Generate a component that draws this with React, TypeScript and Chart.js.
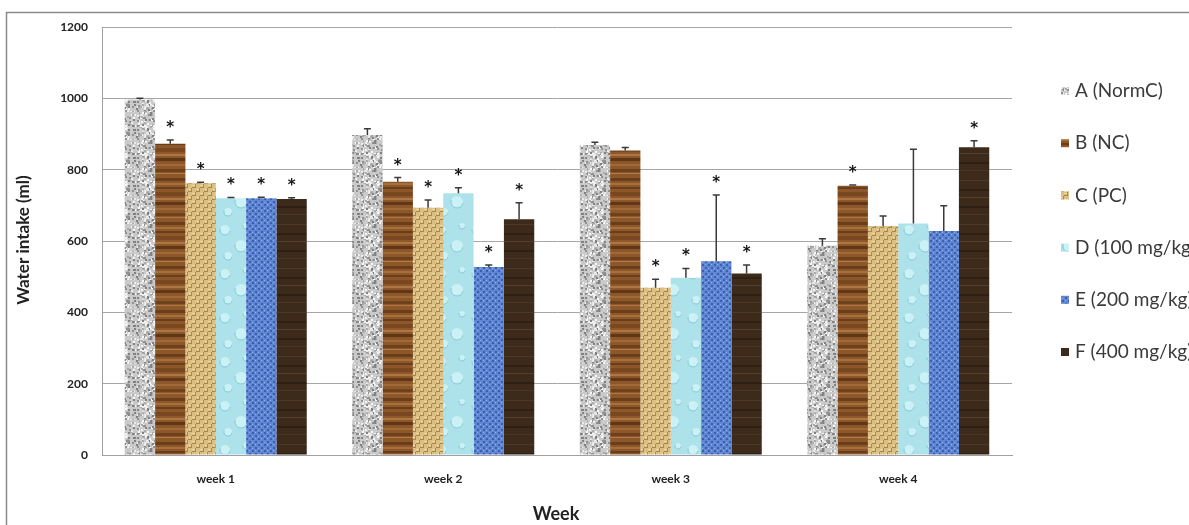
import React, { useEffect, useRef } from "react";
import { Chart, registerables } from "chart.js";

Chart.register(...registerables);

const categories = ["week 1", "week 2", "week 3", "week 4"];
const seriesNames = ["A (NormC)", "B (NC)", "C (PC)", "D (100 mg/kg)", "E (200 mg/kg)", "F (400 mg/kg)"];
const valuesA = [997, 897, 869, 587];
const valuesB = [873, 766, 854, 755];
const valuesC = [762, 693, 469, 642];
const valuesD = [720, 734, 497, 649];
const valuesE = [720, 527, 543, 628];
const valuesF = [718, 661, 509, 863];
const errA = [3, 18, 8, 19];
const errB = [10, 12, 8, 2];
const errC = [3, 22, 24, 28];
const errD = [2, 15, 26, 208];
const errE = [3, 6, 186, 71];
const errF = [3, 46, 24, 18];
const starA = [false, false, false, false];
const starB = [true, true, false, true];
const starC = [true, true, true, false];
const starD = [true, true, true, false];
const starE = [true, true, true, false];
const starF = [true, true, true, true];
const yTicks = [0, 200, 400, 600, 800, 1000, 1200];

const allValues = [valuesA, valuesB, valuesC, valuesD, valuesE, valuesF];
const allErrs = [errA, errB, errC, errD, errE, errF];
const allStars = [starA, starB, starC, starD, starE, starF];

function makeTile(w: number, h: number, draw: (c: CanvasRenderingContext2D) => void) {
  const cv = document.createElement("canvas");
  cv.width = w;
  cv.height = h;
  const c = cv.getContext("2d")!;
  draw(c);
  return cv;
}

function hash(n: number) {
  const s = Math.sin(n * 12.9898) * 43758.5453;
  return s - Math.floor(s);
}

function buildPatterns(ctx: CanvasRenderingContext2D) {
  const granite = makeTile(28, 28, (c) => {
    c.fillStyle = "#cacaca";
    c.fillRect(0, 0, 28, 28);
    const cols = ["#929292", "#ececec", "#ababab", "#f6f6f6", "#828282"];
    for (let k = 0; k < 130; k++) {
      const x = Math.floor(hash(k + 1) * 28);
      const y = Math.floor(hash(k + 101) * 28);
      c.fillStyle = cols[k % cols.length];
      c.fillRect(x, y, 2, 2);
    }
  });
  const wood = makeTile(32, 44, (c) => {
    c.fillStyle = "#8d5729";
    c.fillRect(0, 0, 32, 44);
    const bands = [
      [2, 3, "#6b3e1b"], [7, 2, "#a66f3b"], [11, 2, "#6b3e1b"], [16, 4, "#7a4820"],
      [22, 2, "#ad7642"], [26, 3, "#5f3617"], [32, 2, "#a06a38"], [37, 3, "#6e401c"], [41, 1, "#b07a46"],
    ] as [number, number, string][];
    for (const [y, h, col] of bands) {
      c.fillStyle = col;
      c.fillRect(0, y, 32, h);
    }
  });
  const woven = makeTile(8, 8, (c) => {
    c.fillStyle = "#dcbf83";
    c.fillRect(0, 0, 8, 8);
    c.fillStyle = "#a9864a";
    c.fillRect(0, 3, 4, 1);
    c.fillRect(4, 7, 4, 1);
    c.fillRect(3, 0, 1, 3);
    c.fillRect(7, 4, 1, 3);
    c.fillStyle = "#efd9a6";
    c.fillRect(0, 1, 3, 1);
    c.fillRect(5, 5, 2, 1);
  });
  const water = makeTile(36, 44, (c) => {
    c.fillStyle = "#ade2eb";
    c.fillRect(0, 0, 36, 44);
    const drops = [[9, 10, 5], [25, 26, 6], [12, 36, 4], [30, 6, 3]];
    for (const [x, y, r] of drops) {
      c.fillStyle = "#c9f1f6";
      c.beginPath();
      c.arc(x, y, r, 0, Math.PI * 2);
      c.fill();
      c.strokeStyle = "#86c9d6";
      c.lineWidth = 1;
      c.beginPath();
      c.arc(x, y, r, 0.2, Math.PI * 1.1);
      c.stroke();
    }
  });
  const denim = makeTile(6, 6, (c) => {
    c.fillStyle = "#5f87d3";
    c.fillRect(0, 0, 6, 6);
    c.fillStyle = "#3b5fae";
    c.fillRect(0, 0, 2, 2);
    c.fillRect(3, 3, 2, 2);
    c.fillStyle = "#92b0e8";
    c.fillRect(3, 0, 1, 1);
    c.fillRect(0, 4, 1, 1);
  });
  const dark = makeTile(32, 44, (c) => {
    c.fillStyle = "#3c2a1b";
    c.fillRect(0, 0, 32, 44);
    const bands = [[4, 1, "#4e3926"], [13, 2, "#2f2013"], [21, 1, "#543e2a"], [30, 2, "#2e1f13"], [38, 1, "#4a3624"]] as [number, number, string][];
    for (const [y, h, col] of bands) {
      c.fillStyle = col;
      c.fillRect(0, y, 32, h);
    }
  });
  return [granite, wood, woven, water, denim, dark].map((t) => ctx.createPattern(t, "repeat") as CanvasPattern);
}

export default function App() {
  const ref = useRef<HTMLCanvasElement | null>(null);
  useEffect(() => {
    const canvas = ref.current!;
    const ctx = canvas.getContext("2d")!;
    const patterns = buildPatterns(ctx);
    const fallback = ["#c6c6c6", "#8d5729", "#dcbf83", "#ade2eb", "#5f87d3", "#3c2a1b"];

    const decorPlugin = {
      id: "decor",
      afterDatasetsDraw(chart: any) {
        const c = chart.ctx as CanvasRenderingContext2D;
        const y = chart.scales.y;
        c.save();
        chart.data.datasets.forEach((ds: any, i: number) => {
          const meta = chart.getDatasetMeta(i);
          meta.data.forEach((bar: any, j: number) => {
            const v = allValues[i][j];
            const e = allErrs[i][j];
            const yTop = y.getPixelForValue(v);
            const yErr = y.getPixelForValue(v + e);
            c.strokeStyle = "#3a3a3a";
            c.lineWidth = 1.5;
            c.beginPath();
            c.moveTo(bar.x, yTop);
            c.lineTo(bar.x, yErr);
            c.moveTo(bar.x - 3.5, yErr);
            c.lineTo(bar.x + 3.5, yErr);
            c.stroke();
            if (allStars[i][j]) {
              c.fillStyle = "#151515";
              c.font = "bold 15px 'DejaVu Sans'";
              c.textAlign = "center";
              c.textBaseline = "alphabetic";
              c.fillText("*", bar.x, yErr - 8);
            }
          });
        });
        c.restore();
      },
      afterDraw(chart: any) {
        const c = chart.ctx as CanvasRenderingContext2D;
        c.save();
        c.strokeStyle = "#8a8a8a";
        c.lineWidth = 1.5;
        c.beginPath();
        c.moveTo(6.5, 540);
        c.lineTo(6.5, 12.5);
        c.lineTo(1200, 12.5);
        c.stroke();
        c.fillStyle = "#222";
        c.font = "bold 17px Lato";
        c.textAlign = "center";
        c.textBaseline = "middle";
        c.save();
        c.translate(24, 240);
        c.rotate(-Math.PI / 2);
        c.fillText("Water intake (ml)", 0, 0);
        c.restore();
        c.font = "bold 18px Lato";
        c.fillText("Week", 556, 514);
        c.font = "19px Lato";
        c.textAlign = "left";
        seriesNames.forEach((name, i) => {
          const cy = 91 + i * 52.2;
          c.fillStyle = patterns[i] || fallback[i];
          c.fillRect(1061, cy - 4, 8, 8);
          c.fillStyle = "#3a3a3a";
          c.fillText(name, 1075, cy);
        });
        c.restore();
      },
    };

    const chart = new Chart(ctx, {
      type: "bar",
      data: {
        labels: categories,
        datasets: seriesNames.map((name, i) => ({
          label: name,
          data: allValues[i],
          backgroundColor: patterns[i] || fallback[i],
          borderWidth: 0,
          categoryPercentage: 0.8,
          barPercentage: 1.0,
        })),
      },
      options: {
        animation: false,
        responsive: false,
        maintainAspectRatio: false,
        layout: { padding: { left: 0, right: 177, top: 27, bottom: 0 } },
        plugins: { legend: { display: false }, tooltip: { enabled: false }, title: { display: false } },
        scales: {
          x: {
            grid: { display: false, drawTicks: false },
            border: { display: true, color: "#a0a0a0", width: 1 },
            ticks: { padding: 17, color: "#222", font: { family: "Lato", size: 12, weight: "bold" } },
            afterFit: (s: any) => { s.height = 70; },
          },
          y: {
            min: 0,
            max: 1200,
            afterBuildTicks: (s: any) => { s.ticks = yTicks.map((v) => ({ value: v })); },
            grid: { color: "#a6a6a6", lineWidth: 1, drawTicks: false },
            border: { display: true, color: "#a0a0a0", width: 1 },
            ticks: {
              padding: 14,
              color: "#222",
              font: { family: "Lato", size: 12, weight: "bold" },
              callback: (v: any) => String(v),
            },
            afterFit: (s: any) => { s.width = 102; },
          },
        },
      },
      plugins: [decorPlugin],
    } as any);
    return () => chart.destroy();
  }, []);

  return (
    <div style={{ position: "fixed", left: 0, top: 0, width: 1189, height: 525, background: "#fff" }}>
      <canvas ref={ref} width={1189} height={525} style={{ display: "block", width: 1189, height: 525 }} />
    </div>
  );
}
